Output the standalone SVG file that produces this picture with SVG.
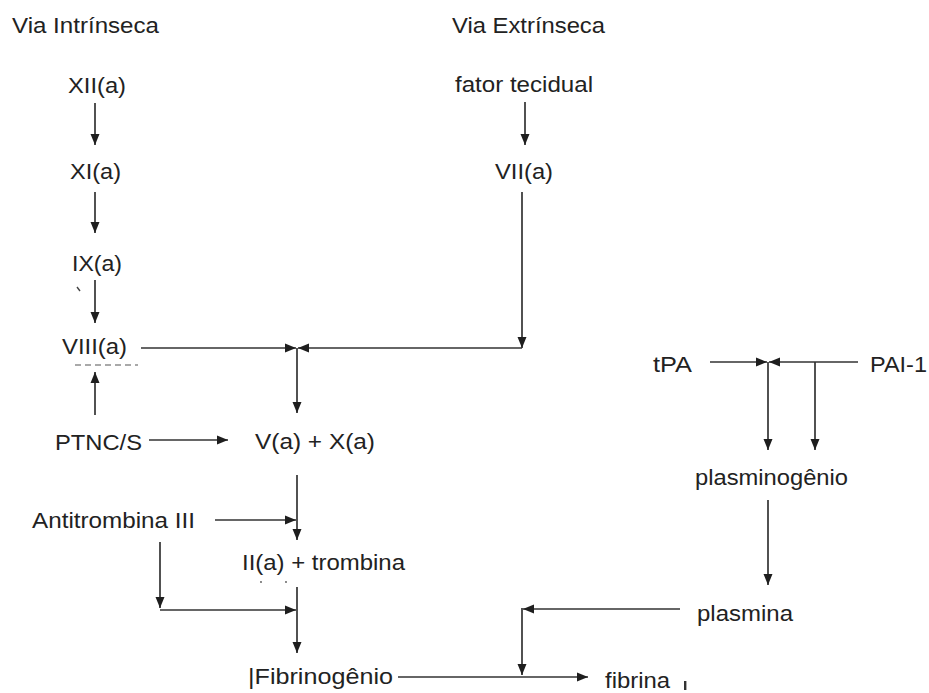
<svg xmlns="http://www.w3.org/2000/svg" width="929" height="693" viewBox="0 0 929 693">
<defs>
<marker id="ah" viewBox="0 0 11 10" refX="11" refY="5" markerWidth="11" markerHeight="10" markerUnits="userSpaceOnUse" orient="auto">
<path d="M0,0.5 L11,5 L0,9.5 Z" fill="#1e1e1e"/>
</marker>
</defs>
<style>
text{font-family:"Liberation Sans",Arial,sans-serif;font-size:21.5px;fill:#222}
.c{stroke:#333;stroke-width:1.7;fill:none}
.a{marker-end:url(#ah)}
</style>
<rect width="929" height="693" fill="#fff"/>
<g id="lbl-intrinseca"><text x="12" y="33" textLength="147" lengthAdjust="spacingAndGlyphs">Via Intrínseca</text></g>
<g id="lbl-extrinseca"><text x="452" y="33" textLength="153" lengthAdjust="spacingAndGlyphs">Via Extrínseca</text></g>
<g id="n-xii"><text x="68" y="93" textLength="58" lengthAdjust="spacingAndGlyphs">XII(a)</text></g>
<g id="n-fator"><text x="455" y="92" textLength="138" lengthAdjust="spacingAndGlyphs">fator tecidual</text></g>
<g id="n-xi"><text x="70" y="179" textLength="51" lengthAdjust="spacingAndGlyphs">XI(a)</text></g>
<g id="n-vii"><text x="495" y="179" textLength="58" lengthAdjust="spacingAndGlyphs">VII(a)</text></g>
<g id="n-ix"><text x="72" y="271" textLength="50" lengthAdjust="spacingAndGlyphs">IX(a)</text><path d="M77,287 l3,4" stroke="#444" stroke-width="1.4"/></g>
<g id="n-viii"><text x="62" y="354" textLength="65" lengthAdjust="spacingAndGlyphs">VIII(a)</text><path d="M75,365 H138" stroke="#555" stroke-width="1.2" stroke-dasharray="6,4"/></g>
<g id="n-ptnc"><text x="55" y="450" textLength="87" lengthAdjust="spacingAndGlyphs">PTNC/S</text></g>
<g id="n-vx"><text x="255" y="449" textLength="120" lengthAdjust="spacingAndGlyphs">V(a) + X(a)</text></g>
<g id="n-tpa"><text x="653" y="372" textLength="39" lengthAdjust="spacingAndGlyphs">tPA</text></g>
<g id="n-pai"><text x="870" y="372" textLength="57" lengthAdjust="spacingAndGlyphs">PAI-1</text></g>
<g id="n-plasminogenio"><text x="695" y="485" textLength="153" lengthAdjust="spacingAndGlyphs">plasminogênio</text></g>
<g id="n-antitrombina"><text x="32" y="528" textLength="163" lengthAdjust="spacingAndGlyphs">Antitrombina III</text></g>
<g id="n-trombina"><text x="242" y="570" textLength="163" lengthAdjust="spacingAndGlyphs">II(a) + trombina</text><circle cx="261" cy="582" r="0.9" fill="#555"/><circle cx="286" cy="582" r="0.9" fill="#555"/></g>
<g id="n-plasmina"><text x="697" y="621" textLength="96" lengthAdjust="spacingAndGlyphs">plasmina</text></g>
<g id="n-fibrinogenio"><text x="248" y="684" textLength="145" lengthAdjust="spacingAndGlyphs">|Fibrinogênio</text></g>
<g id="n-fibrina"><text x="605" y="688" textLength="65" lengthAdjust="spacingAndGlyphs">fibrina</text><rect x="684" y="681" width="2.4" height="9" fill="#333"/></g>
<g id="connectors">
<path class="c a" d="M95,103 V145"/>
<path class="c a" d="M95,192 V233"/>
<path class="c a" d="M95,280 V323"/>
<path class="c a" d="M95,415 V372"/>
<path class="c a" d="M525,102 V145"/>
<path class="c a" d="M522,192 V348"/>
<path class="c a" d="M141,348 H296"/>
<path class="c a" d="M522,348 H298"/>
<path class="c a" d="M297,348 V413"/>
<path class="c a" d="M149,440 H228"/>
<path class="c a" d="M297,475 V540"/>
<path class="c a" d="M215,520 H296"/>
<path class="c a" d="M160,542 V608"/>
<path class="c a" d="M160,610 H296"/>
<path class="c a" d="M297,587 V653"/>
<path class="c a" d="M398,677 H588"/>
<path class="c a" d="M680,609 H523"/>
<path class="c a" d="M522,608 V675"/>
<path class="c a" d="M710,362 H767"/>
<path class="c a" d="M858,362 H769"/>
<path class="c a" d="M768,362 V450"/>
<path class="c a" d="M815,362 V450"/>
<path class="c a" d="M768,500 V585"/>
</g>
</svg>
